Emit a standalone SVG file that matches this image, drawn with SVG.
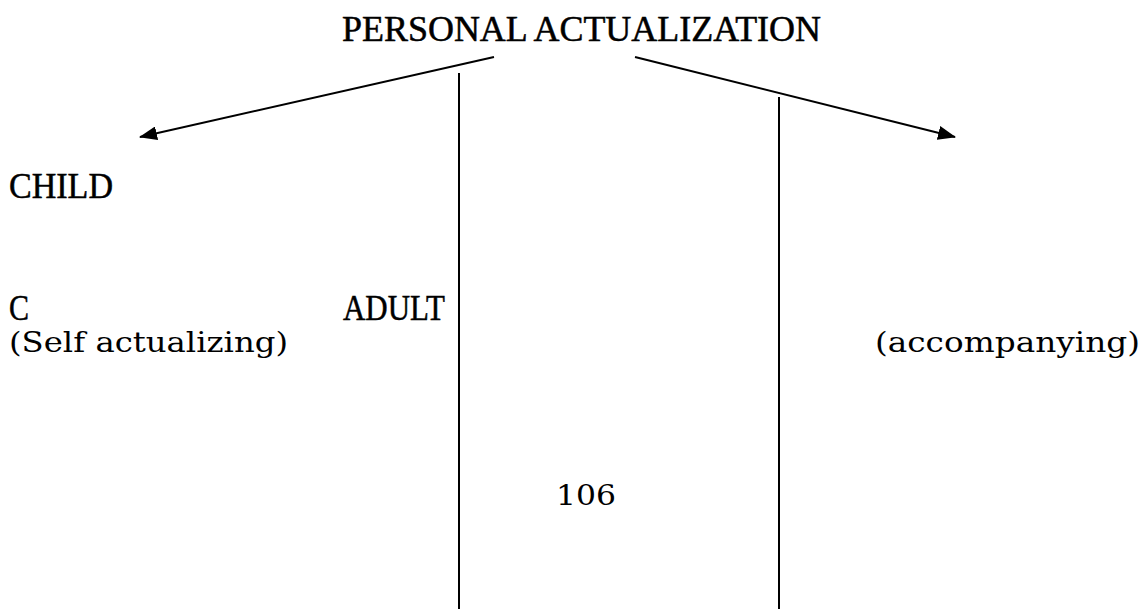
<svg xmlns="http://www.w3.org/2000/svg" width="1146" height="609" viewBox="0 0 1146 609">
<style>
.cap{font-family:"Liberation Serif","DejaVu Serif",serif;font-size:35px;fill:#000;stroke:#000;stroke-width:0.5}
.low{font-family:"DejaVu Serif","Liberation Serif",serif;font-size:28px;fill:#000}
.ln{stroke:#000;stroke-width:2;fill:none}
</style>
<defs>
<marker id="ah" markerWidth="18" markerHeight="14" refX="17" refY="7" orient="auto" markerUnits="userSpaceOnUse">
<path d="M0,0 L18,7 L0,14 Z" fill="#000"/>
</marker>
</defs>
<rect width="1146" height="609" fill="#fff"/>
<g id="connectors">
<line class="ln" x1="494" y1="57" x2="140" y2="137" marker-end="url(#ah)"/>
<line class="ln" x1="635" y1="57" x2="955" y2="137" marker-end="url(#ah)"/>
<line class="ln" x1="459" y1="73" x2="459" y2="609"/>
<line class="ln" x1="779" y1="97" x2="779" y2="609"/>
</g>
<g id="title"><text class="cap" x="342" y="41" font-size="37" textLength="479" lengthAdjust="spacingAndGlyphs">PERSONAL ACTUALIZATION</text></g>
<g id="child"><text class="cap" x="9" y="198" textLength="104" lengthAdjust="spacingAndGlyphs">CHILD</text></g>
<g id="c"><text class="cap" x="9" y="320" textLength="20" lengthAdjust="spacingAndGlyphs">C</text></g>
<g id="adult"><text class="cap" x="343" y="320" textLength="102" lengthAdjust="spacingAndGlyphs">ADULT</text></g>
<g id="self"><text class="low" x="9" y="352" textLength="279" lengthAdjust="spacingAndGlyphs">(Self actualizing)</text></g>
<g id="accompanying"><text class="low" x="875" y="352" textLength="265" lengthAdjust="spacingAndGlyphs">(accompanying)</text></g>
<g id="page"><text class="low" x="556" y="505" textLength="60" lengthAdjust="spacingAndGlyphs">106</text></g>
</svg>
